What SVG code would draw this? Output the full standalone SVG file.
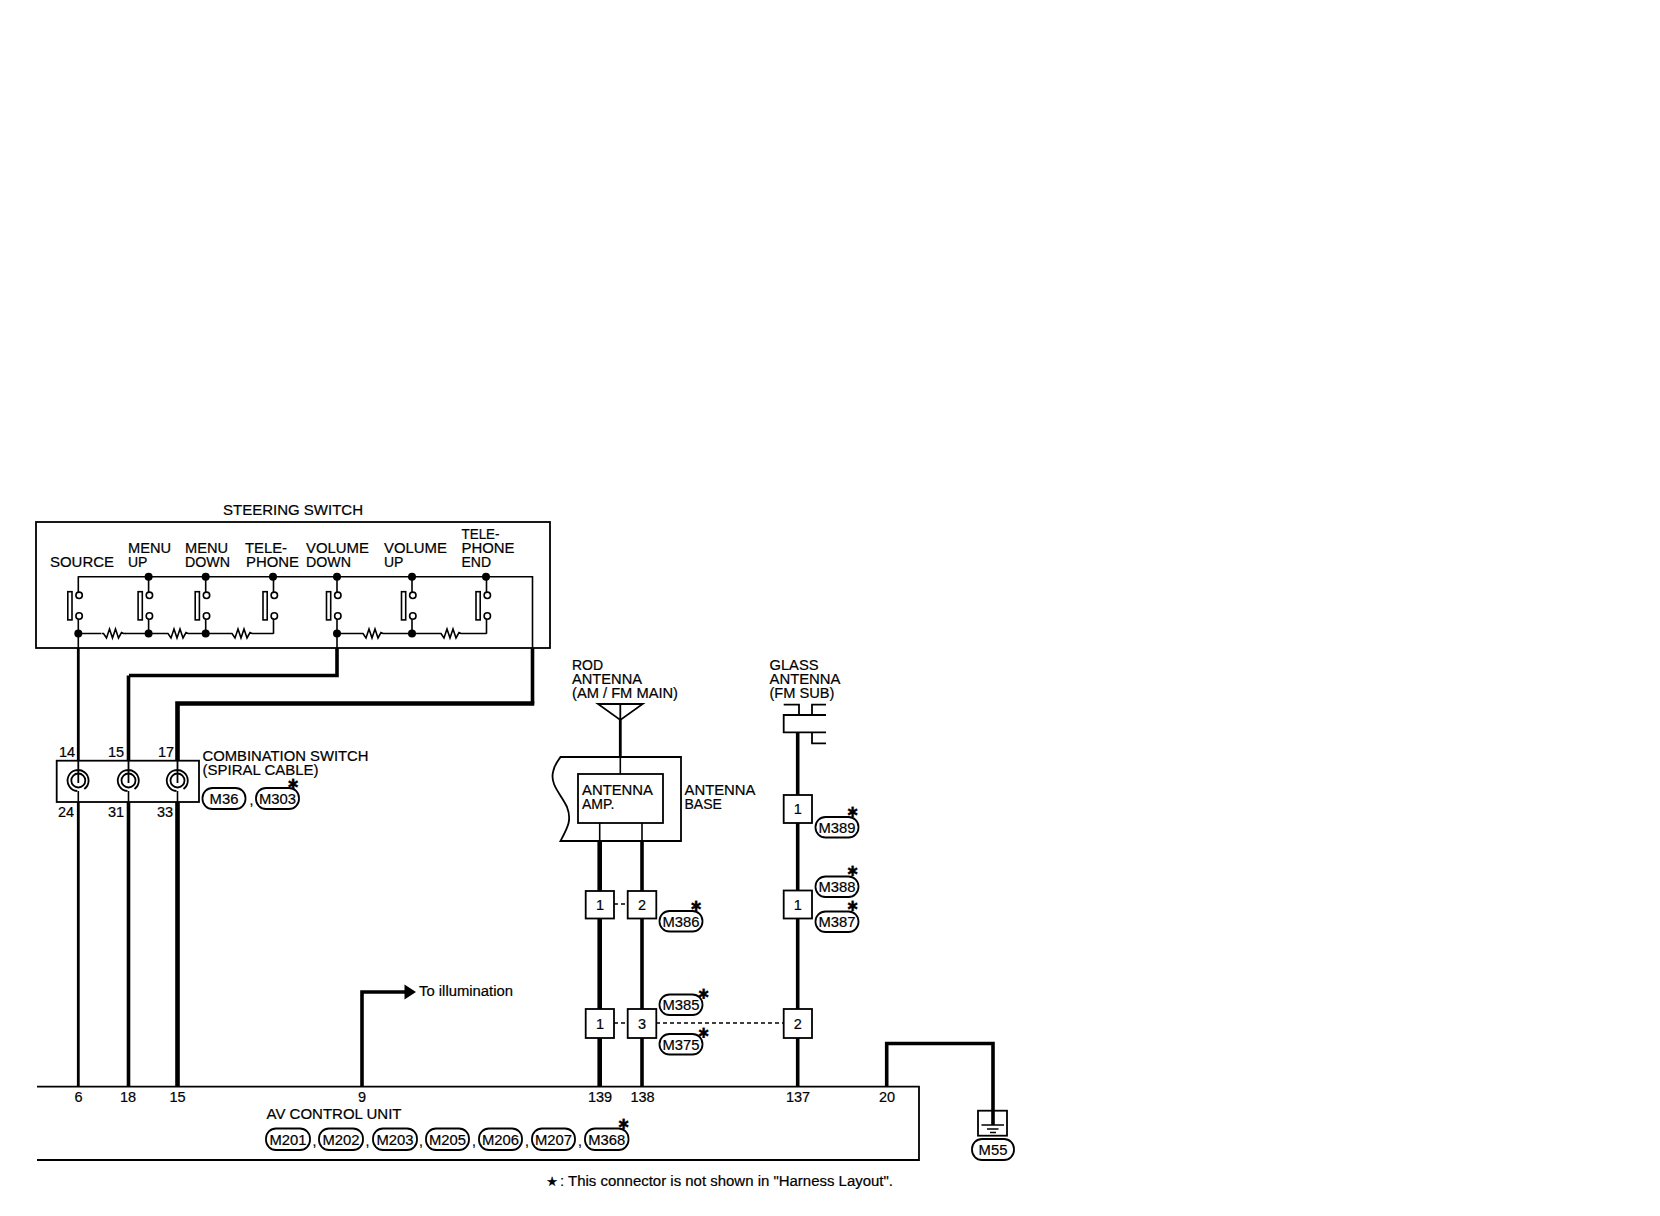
<svg xmlns="http://www.w3.org/2000/svg" xmlns:xlink="http://www.w3.org/1999/xlink" width="1660" height="1216" viewBox="0 0 1660 1216">
<style>
text{font-family:"Liberation Sans",Arial,sans-serif;font-size:14px;fill:#000;stroke:#000;stroke-width:.2}
.n{font-size:14.5px;text-anchor:middle}
.m{font-size:14.8px;text-anchor:middle}
.st{font-family:"DejaVu Sans",sans-serif;font-size:14px;text-anchor:middle;font-weight:bold}
.b{fill:#fff;stroke:#000;stroke-width:1.8}
.o{fill:none;stroke:#000;stroke-width:1.8}
.t{fill:none;stroke:#000;stroke-width:1.6}
.pill{fill:#fff;stroke:#000;stroke-width:1.8}
.w3{fill:none;stroke:#000;stroke-width:2.8}
.w4{fill:none;stroke:#000;stroke-width:3.6}
.w5{fill:none;stroke:#000;stroke-width:4.6}
.d{fill:none;stroke:#000;stroke-width:1.6;stroke-dasharray:4 3}
.cc{fill:#fff;stroke:#000;stroke-width:1.6}
</style>
<defs>
<g id="sw"><path class="t" d="M0 -19V-3M0 24V38.5"/><rect class="cc" x="-10.5" y="-3.6" width="4.2" height="28.2"/><circle class="cc" cx="0.8" cy="0" r="3.2"/><circle class="cc" cx="0.8" cy="20.7" r="3.2"/></g>
<path id="res" class="t" d="M-12 0H-10L-7 4.5L-4 -4.5L-1 4.5L2 -4.5L5 4.5L8 -1L10 0H12"/>
<g id="spiral"><circle class="o" cx="0" cy="0.5" r="7"/><path class="o" d="M0 -20V3M-1 11A10.5 10.5 0 1 1 6 9"/><path class="t" d="M0 11V22"/></g>
</defs>

<g id="connectors">
<path class="w3" d="M78.3 648V761M78.3 802V1087"/>
<path class="w4" d="M337 648V675.5H129M128.5 675.5V761M128.5 802V1087"/>
<path class="w4" d="M532.5 648V703.5"/>
<path class="w5" d="M534.3 703.5H177.5V761M177.5 802V1087"/>
<path class="w4" d="M362 1087V992H406"/>
<path d="M404.5 984.5L416 992L404.5 999.5Z"/>
<path class="w3" d="M620.3 720V757"/>
<path class="t" d="M620.3 757V774"/>
<path class="t" d="M599.7 823V841M642 823V841"/>
<path class="w5" d="M599.7 841V891M599.7 918V1009M599.7 1038V1087"/>
<path class="w4" d="M642 841V891M642 918V1009M642 1038V1087"/>
<path class="w4" d="M797.7 732V795M797.7 823V890M797.7 918V1009M797.7 1038V1087"/>
<path class="d" d="M614 904H628"/>
<path class="d" d="M614 1023H628"/>
<path class="d" d="M656 1023H784"/>
<path class="w4" d="M886.7 1087V1043.5H993V1125"/>
</g>

<g id="steering-switch">
<text x="223" y="515" textLength="140" lengthAdjust="spacingAndGlyphs">STEERING SWITCH</text>
<rect x="36" y="522" width="514" height="126" class="o"/>
<text x="50" y="567" textLength="64" lengthAdjust="spacingAndGlyphs">SOURCE</text>
<text x="128" y="553" textLength="43" lengthAdjust="spacingAndGlyphs">MENU</text><text x="128" y="567">UP</text>
<text x="185" y="553" textLength="43" lengthAdjust="spacingAndGlyphs">MENU</text><text x="185" y="567" textLength="45" lengthAdjust="spacingAndGlyphs">DOWN</text>
<text x="245" y="553" textLength="42" lengthAdjust="spacingAndGlyphs">TELE-</text><text x="246" y="567" textLength="53" lengthAdjust="spacingAndGlyphs">PHONE</text>
<text x="306" y="553" textLength="63" lengthAdjust="spacingAndGlyphs">VOLUME</text><text x="306" y="567" textLength="45" lengthAdjust="spacingAndGlyphs">DOWN</text>
<text x="384" y="553" textLength="63" lengthAdjust="spacingAndGlyphs">VOLUME</text><text x="384" y="567">UP</text>
<text x="461.5" y="539" textLength="38" lengthAdjust="spacingAndGlyphs">TELE-</text><text x="461.5" y="553" textLength="53" lengthAdjust="spacingAndGlyphs">PHONE</text><text x="461.5" y="567">END</text>
<path class="t" d="M78.3 576.7H532.5V648"/>
<path class="t" d="M78.3 633.5H273.5M337 633.5H486.5"/>
<path class="t" d="M78.3 633.5V648M337 633.5V648"/>
<use xlink:href="#sw" href="#sw" x="78.3" y="595.3"/><use xlink:href="#sw" href="#sw" x="148.6" y="595.3"/><use xlink:href="#sw" href="#sw" x="205.7" y="595.3"/><use xlink:href="#sw" href="#sw" x="273.5" y="595.3"/><use xlink:href="#sw" href="#sw" x="337" y="595.3"/><use xlink:href="#sw" href="#sw" x="412" y="595.3"/><use xlink:href="#sw" href="#sw" x="486.5" y="595.3"/>
<g fill="#000"><circle cx="148.6" cy="576.7" r="4"/><circle cx="205.7" cy="576.7" r="4"/><circle cx="273" cy="576.7" r="4"/><circle cx="337" cy="576.7" r="4"/><circle cx="412" cy="576.7" r="4"/><circle cx="486" cy="576.7" r="4"/><circle cx="78.3" cy="633.5" r="4"/><circle cx="148.6" cy="633.5" r="4"/><circle cx="205.7" cy="633.5" r="4"/><circle cx="337" cy="633.5" r="4"/><circle cx="412" cy="633.5" r="4"/></g>
<g><rect x="101" y="628" width="24" height="11" fill="#fff"/><use xlink:href="#res" href="#res" x="113.5" y="633.5"/><rect x="166" y="628" width="24" height="11" fill="#fff"/><use xlink:href="#res" href="#res" x="178" y="633.5"/><rect x="230" y="628" width="24" height="11" fill="#fff"/><use xlink:href="#res" href="#res" x="242" y="633.5"/><rect x="361" y="628" width="24" height="11" fill="#fff"/><use xlink:href="#res" href="#res" x="373" y="633.5"/><rect x="439" y="628" width="24" height="11" fill="#fff"/><use xlink:href="#res" href="#res" x="451" y="633.5"/></g>
</g>

<g id="combination-switch">
<rect x="56.7" y="760.7" width="142.3" height="41.3" class="o"/>
<use xlink:href="#spiral" href="#spiral" x="78.3" y="780"/><use xlink:href="#spiral" href="#spiral" x="128.5" y="780"/><use xlink:href="#spiral" href="#spiral" x="177.5" y="780"/>
<text x="59" y="757" style="font-size:14.5px">14</text><text x="108" y="757" style="font-size:14.5px">15</text><text x="158" y="757" style="font-size:14.5px">17</text>
<text x="58" y="816.5" style="font-size:14.5px">24</text><text x="108" y="816.5" style="font-size:14.5px">31</text><text x="157" y="816.5" style="font-size:14.5px">33</text>
<text x="202.5" y="761" textLength="166" lengthAdjust="spacingAndGlyphs">COMBINATION SWITCH</text>
<text x="202.5" y="775" textLength="116" lengthAdjust="spacingAndGlyphs">(SPIRAL CABLE)</text>
<rect class="pill" x="202.5" y="788" width="43" height="21" rx="10"/><text class="m" x="224" y="804">M36</text>
<text x="249.5" y="805">,</text>
<rect class="pill" x="256" y="788" width="43" height="21" rx="10"/><text class="m" x="277.5" y="804">M303</text>
<text class="st" x="293" y="788.5">✱</text>
</g>

<g id="rod-antenna">
<text x="572" y="669.5">ROD</text><text x="572" y="683.5" textLength="70" lengthAdjust="spacingAndGlyphs">ANTENNA</text><text x="572" y="697.5" textLength="106" lengthAdjust="spacingAndGlyphs">(AM / FM MAIN)</text>
<path class="o" d="M598 704H642.7L620.3 720ZM620.3 704V720"/>
</g>

<g id="antenna-base">
<path class="o" d="M560.5 757H681V841H560.5C568 827 572 820 567 807C561 794 550 785 553 772C554 765 558 761 560.5 757Z"/>
<text x="684.5" y="795" textLength="71" lengthAdjust="spacingAndGlyphs">ANTENNA</text><text x="684.5" y="809">BASE</text>
</g>

<g id="antenna-amp">
<rect x="578" y="774" width="85" height="49" class="o"/>
<text x="582" y="795" textLength="71" lengthAdjust="spacingAndGlyphs">ANTENNA</text><text x="582" y="809">AMP.</text>
</g>

<g id="glass-antenna">
<text x="769.5" y="669.5" textLength="49" lengthAdjust="spacingAndGlyphs">GLASS</text><text x="769.5" y="683.5" textLength="71" lengthAdjust="spacingAndGlyphs">ANTENNA</text><text x="769.5" y="697.5" textLength="65" lengthAdjust="spacingAndGlyphs">(FM SUB)</text>
<path class="o" d="M826 715H783.7V732.3H826M783.7 704.7H799V715M826 704.7H812V715M812 732.3V743.3H826"/>
</g>

<g id="connector-boxes">
<g id="c-m386-1"><rect class="b" x="585.7" y="891" width="28.3" height="27.5"/><text class="n" x="600" y="909.5">1</text></g>
<g id="c-m386-2"><rect class="b" x="627.7" y="891" width="28.6" height="27.5"/><text class="n" x="642" y="909.5">2</text></g>
<g id="c-m375-1"><rect class="b" x="585.7" y="1009" width="28.3" height="29"/><text class="n" x="600" y="1028.5">1</text></g>
<g id="c-m375-3"><rect class="b" x="627.7" y="1009" width="28.6" height="29"/><text class="n" x="642" y="1028.5">3</text></g>
<g id="c-m389"><rect class="b" x="783.7" y="795" width="28.3" height="28"/><text class="n" x="797.7" y="814">1</text></g>
<g id="c-m387"><rect class="b" x="783.7" y="890.5" width="28.3" height="28"/><text class="n" x="797.7" y="909.5">1</text></g>
<g id="c-m385-2"><rect class="b" x="783.7" y="1009" width="28.3" height="29"/><text class="n" x="797.7" y="1028.5">2</text></g>
</g>

<g id="connector-labels">
<rect class="pill" x="659.5" y="911" width="43" height="20.5" rx="10"/><text class="m" x="681" y="926.5">M386</text><text class="st" x="696" y="910.5">✱</text>
<rect class="pill" x="815.5" y="817" width="43" height="20.5" rx="10"/><text class="m" x="837" y="832.5">M389</text><text class="st" x="852.5" y="816.5">✱</text>
<rect class="pill" x="815.5" y="876.5" width="43" height="20.5" rx="10"/><text class="m" x="837" y="892">M388</text><text class="st" x="852.5" y="875.5">✱</text>
<rect class="pill" x="815.5" y="911.5" width="43" height="20.5" rx="10"/><text class="m" x="837" y="927">M387</text><text class="st" x="852.5" y="910.5">✱</text>
<rect class="pill" x="659.5" y="994.5" width="43" height="20.5" rx="10"/><text class="m" x="681" y="1010">M385</text><text class="st" x="703.5" y="998.5">✱</text>
<rect class="pill" x="659.5" y="1034" width="43" height="20.5" rx="10"/><text class="m" x="681" y="1049.5">M375</text><text class="st" x="703.5" y="1037.5">✱</text>
</g>

<g id="illumination"><text x="419" y="995.5" textLength="94" lengthAdjust="spacingAndGlyphs">To illumination</text></g>

<g id="av-control-unit">
<path class="o" d="M37 1086.7H919V1160H37"/>
<text class="n" x="78.5" y="1102">6</text><text class="n" x="128" y="1102">18</text><text class="n" x="177.5" y="1102">15</text><text class="n" x="362" y="1102">9</text><text class="n" x="600" y="1102">139</text><text class="n" x="642.5" y="1102">138</text><text class="n" x="798" y="1102">137</text><text class="n" x="887" y="1102">20</text>
<text x="266.5" y="1118.5" textLength="135" lengthAdjust="spacingAndGlyphs">AV CONTROL UNIT</text>
<rect class="pill" x="266" y="1128.5" width="44" height="21.5" rx="10"/><text class="m" x="288" y="1144.5">M201</text><text x="312.5" y="1146">,</text>
<rect class="pill" x="319" y="1128.5" width="44" height="21.5" rx="10"/><text class="m" x="341" y="1144.5">M202</text><text x="365.5" y="1146">,</text>
<rect class="pill" x="373" y="1128.5" width="44" height="21.5" rx="10"/><text class="m" x="395" y="1144.5">M203</text><text x="419" y="1146">,</text>
<rect class="pill" x="426" y="1128.5" width="43" height="21.5" rx="10"/><text class="m" x="447.5" y="1144.5">M205</text><text x="472" y="1146">,</text>
<rect class="pill" x="479" y="1128.5" width="43" height="21.5" rx="10"/><text class="m" x="500.5" y="1144.5">M206</text><text x="525" y="1146">,</text>
<rect class="pill" x="532" y="1128.5" width="43" height="21.5" rx="10"/><text class="m" x="553.5" y="1144.5">M207</text><text x="578" y="1146">,</text>
<rect class="pill" x="585" y="1128.5" width="43.5" height="21.5" rx="10"/><text class="m" x="606.7" y="1144.5">M368</text><text class="st" x="623.5" y="1128.5">✱</text>
</g>

<g id="ground-m55">
<rect class="o" x="978" y="1110.7" width="29" height="25"/>
<path class="t" d="M981.5 1125H1004M987 1129H998.5M990 1132.5H996"/>
<rect class="pill" x="972" y="1139" width="42" height="21" rx="10"/><text class="m" x="993" y="1155">M55</text>
</g>

<g id="footnote">
<text x="552" y="1186" text-anchor="middle" style="font-family:'DejaVu Sans',sans-serif;font-size:13px">★</text>
<text x="560" y="1185.5" textLength="333" lengthAdjust="spacingAndGlyphs">: This connector is not shown in "Harness Layout".</text>
</g>
</svg>
